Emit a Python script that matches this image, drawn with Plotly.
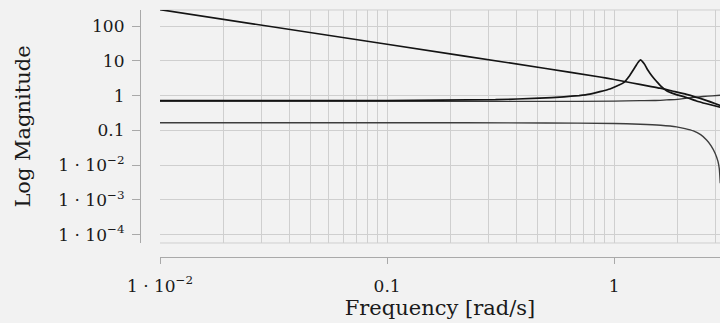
import plotly.graph_objects as go

# ---- data ----
freq_a = [0.01, 0.1, 0.5, 0.865, 1.0, 1.2, 1.4, 1.59, 1.8, 2.08, 2.5, 2.93]
mag_a = [295, 29.8, 6.0, 3.42, 2.9, 2.3, 1.9, 1.63, 1.35, 1.08, 0.75, 0.52]

freq_b = [0.01, 0.1, 0.3, 0.47, 0.6, 0.7, 0.78, 0.865, 0.957, 1.05, 1.1, 1.17, 1.23, 1.27,
          1.307, 1.34, 1.365, 1.4, 1.436, 1.49, 1.54, 1.6, 1.7, 1.85, 2.08, 2.3, 2.55, 2.93]
mag_b = [0.72, 0.72, 0.76, 0.84, 0.92, 1.0, 1.1, 1.3, 1.55, 2.0, 2.35, 3.8, 6.3, 8.8,
         10.6, 9.0, 7.6, 5.6, 4.4, 3.2, 2.5, 1.9, 1.38, 1.1, 0.88, 0.7, 0.58, 0.46]

freq_c = [0.01, 0.1, 0.5, 1.0, 1.3, 1.5, 1.7, 1.9, 2.08, 2.3, 2.46, 2.7, 2.93]
mag_c = [0.68, 0.68, 0.68, 0.69, 0.71, 0.72, 0.75, 0.78, 0.84, 0.9, 0.94, 0.98, 1.02]

freq_d = [0.01, 0.1, 0.5, 1.0, 1.3, 1.6, 1.88, 2.05, 2.23, 2.4, 2.55, 2.67, 2.78, 2.86, 2.9, 2.93]
mag_d = [0.165, 0.165, 0.163, 0.157, 0.15, 0.14, 0.126, 0.112, 0.096, 0.075, 0.053, 0.036,
         0.022, 0.013, 0.008, 0.003]

x_tickvals = [0.01, 0.1, 1]
x_ticktext = ["1 · 10<sup>−2</sup>", "0.1", "1"]
y_tickvals = [100, 10, 1, 0.1, 0.01, 0.001, 0.0001]
y_ticktext = ["100", "10", "1", "0.1", "1 · 10<sup>−2</sup>",
              "1 · 10<sup>−3</sup>", "1 · 10<sup>−4</sup>"]
x_minor_mult = [1.9, 2.8, 3.7, 4.6, 5.5, 6.4, 7.3, 8.2, 9.1]
decades = [0.01, 0.1, 1]

x_minor = [round(d * m, 6) for d in decades for m in x_minor_mult if d * m < 3.0]

BG = "#f2f2f2"
GRID = "#cfcfcf"
AXIS = "#a9a9a9"
FONT = "DejaVu Serif"

fig = go.Figure()
fig.add_trace(go.Scatter(x=freq_d, y=mag_d, mode="lines",
                         line=dict(color="#3d3d3d", width=1.4, shape="spline", smoothing=0.6)))
fig.add_trace(go.Scatter(x=freq_c, y=mag_c, mode="lines",
                         line=dict(color="#383838", width=1.3, shape="spline", smoothing=0.6)))
fig.add_trace(go.Scatter(x=freq_a, y=mag_a, mode="lines",
                         line=dict(color="#141414", width=1.7, shape="spline", smoothing=0.6)))
fig.add_trace(go.Scatter(x=freq_b, y=mag_b, mode="lines",
                         line=dict(color="#141414", width=1.7, shape="spline", smoothing=0.4)))

fig.update_layout(
    width=720, height=323,
    margin=dict(l=140, r=0, t=10, b=66, pad=0),
    paper_bgcolor=BG, plot_bgcolor=BG,
    showlegend=False,
    font=dict(family=FONT, color="#1a1a1a", size=17),
    xaxis=dict(
        type="log", range=[-2.0, 0.4656], domain=[20 / 580, 1],
        anchor="free", position=0, automargin=False,
        tickmode="array", tickvals=x_tickvals, ticktext=x_ticktext,
        ticks="outside", ticklen=6, tickwidth=1, tickcolor=AXIS,
        ticklabelstandoff=7,
        showline=True, linecolor=AXIS, linewidth=1.2,
        showgrid=True, gridcolor=GRID, gridwidth=1,
        minor=dict(tickmode="array", tickvals=x_minor, showgrid=True,
                   gridcolor=GRID, gridwidth=1, ticks=""),
        zeroline=False,
        tickfont=dict(size=17),
        title=dict(text="Frequency [rad/s]", font=dict(size=21), standoff=5),
    ),
    yaxis=dict(
        type="log", range=[-4.24, 2.46], domain=[14 / 247, 1],
        anchor="free", position=0, automargin=False,
        tickmode="array", tickvals=y_tickvals, ticktext=y_ticktext,
        ticks="outside", ticklen=8, tickwidth=1, tickcolor=AXIS,
        ticklabelstandoff=4,
        showline=True, linecolor=AXIS, linewidth=1.2,
        showgrid=True, gridcolor=GRID, gridwidth=1,
        zeroline=False,
        tickfont=dict(size=17),
        title=dict(text="Log Magnitude", font=dict(size=21), standoff=20),
    ),
    shapes=[
        dict(type="line", xref="x domain", yref="y domain", x0=0, x1=1, y0=1, y1=1,
             line=dict(color=GRID, width=1), layer="below"),
        dict(type="line", xref="x domain", yref="y domain", x0=0, x1=1, y0=0, y1=0,
             line=dict(color=GRID, width=1), layer="below"),
    ],
)

fig.write_html(
    "out.html",
    config={"displayModeBar": False},
    post_script="document.body.style.margin='0px';document.body.style.background='#f2f2f2';"
                "document.body.style.overflow='hidden';",
)
